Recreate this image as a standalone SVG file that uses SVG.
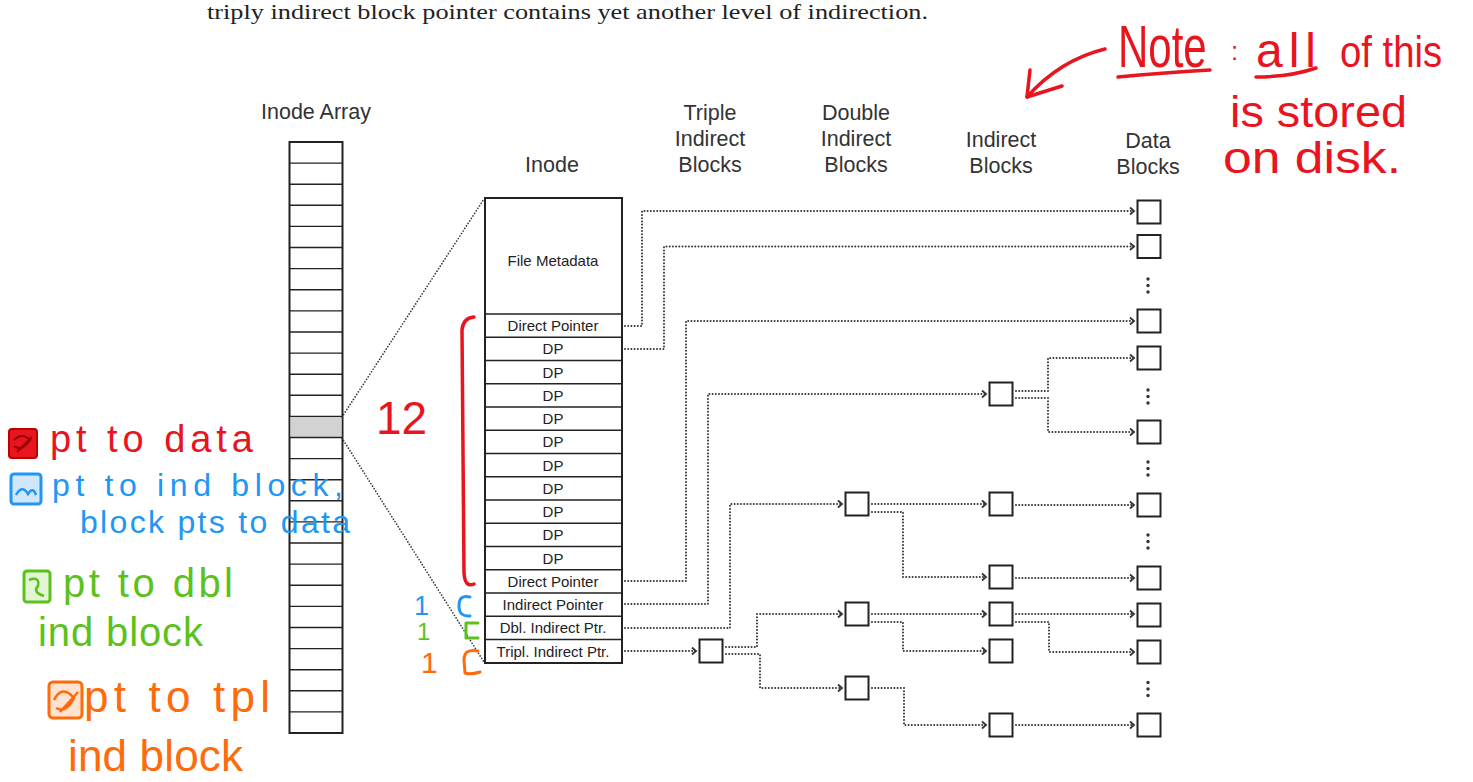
<svg xmlns="http://www.w3.org/2000/svg" width="1473" height="782" viewBox="0 0 1473 782">
<style>
.box{fill:#fff;stroke:#222;stroke-width:2}
.ln{stroke:#222;stroke-width:1.4}
.conn{fill:none;stroke:#333;stroke-width:2;stroke-dasharray:0 3.2;stroke-linecap:round}
.zoom{fill:none;stroke:#333;stroke-width:1.7;stroke-dasharray:0 3;stroke-linecap:round}
.lbl{font-family:"Liberation Sans",Arial,sans-serif;font-size:21.5px;fill:#333;text-anchor:middle}
.in{font-family:"Liberation Sans",Arial,sans-serif;font-size:15px;fill:#222;text-anchor:middle}
.hw{font-family:"Liberation Sans",Arial,sans-serif}
.red{fill:#e8141e}.blue{fill:#2196f3}.green{fill:#5cc11c}.orange{fill:#ff6a0a}
.sred{fill:none;stroke:#e8141e;stroke-width:3.5;stroke-linecap:round;stroke-linejoin:round}
.sblue{fill:none;stroke:#2196f3;stroke-width:3;stroke-linecap:round;stroke-linejoin:round}
.sgreen{fill:none;stroke:#5cc11c;stroke-width:3;stroke-linecap:round;stroke-linejoin:round}
.sorange{fill:none;stroke:#ff6a0a;stroke-width:3;stroke-linecap:round;stroke-linejoin:round}
.dot{fill:#333}
</style>
<defs>
<marker id="ah" markerWidth="8" markerHeight="10" refX="5" refY="5" orient="auto" markerUnits="userSpaceOnUse">
<path d="M1,1.5 L5,5 L1,8.5" fill="none" stroke="#333" stroke-width="1.8"/>
</marker>
</defs>
<rect width="1473" height="782" fill="#fff"/>

<text x="207" y="19" font-family="'Liberation Serif',serif" font-size="22" fill="#222" textLength="721" lengthAdjust="spacingAndGlyphs">triply indirect block pointer contains yet another level of indirection.</text>

<g id="labels">
<text class="lbl" x="316" y="119">Inode Array</text>
<text class="lbl" x="552" y="172">Inode</text>
<text class="lbl" x="710" y="120">Triple</text>
<text class="lbl" x="710" y="146">Indirect</text>
<text class="lbl" x="710" y="172">Blocks</text>
<text class="lbl" x="856" y="120">Double</text>
<text class="lbl" x="856" y="146">Indirect</text>
<text class="lbl" x="856" y="172">Blocks</text>
<text class="lbl" x="1001" y="147">Indirect</text>
<text class="lbl" x="1001" y="173">Blocks</text>
<text class="lbl" x="1148" y="148">Data</text>
<text class="lbl" x="1148" y="174">Blocks</text>
</g>

<g id="inode-array">
<rect class="box" x="289.5" y="142" width="53" height="591"/>
<rect x="290.5" y="416.4" width="51" height="21.1" fill="#d2d2d2"/>
<path class="ln" d="M289.5,163.1H342.5M289.5,184.2H342.5M289.5,205.3H342.5M289.5,226.4H342.5M289.5,247.5H342.5M289.5,268.6H342.5M289.5,289.7H342.5M289.5,310.9H342.5M289.5,332H342.5M289.5,353.1H342.5M289.5,374.2H342.5M289.5,395.3H342.5M289.5,416.4H342.5M289.5,437.5H342.5M289.5,458.6H342.5M289.5,479.7H342.5M289.5,500.8H342.5M289.5,521.9H342.5M289.5,543H342.5M289.5,564.1H342.5M289.5,585.2H342.5M289.5,606.4H342.5M289.5,627.5H342.5M289.5,648.6H342.5M289.5,669.7H342.5M289.5,690.8H342.5M289.5,711.9H342.5"/>
</g>

<g id="zoom-lines">
<path class="zoom" d="M342,417 L484,199"/>
<path class="zoom" d="M342,438 L484,662"/>
</g>

<g id="inode">
<rect class="box" x="485" y="198" width="137" height="465"/>
<path class="ln" d="M485,314H622M485,337.25H622M485,360.5H622M485,383.75H622M485,407H622M485,430.25H622M485,453.5H622M485,476.75H622M485,500H622M485,523.25H622M485,546.5H622M485,569.75H622M485,593H622M485,616.25H622M485,639.5H622"/>
<text class="in" x="553" y="266">File Metadata</text>
<text class="in" x="553" y="331">Direct Pointer</text>
<text class="in" x="553" y="354.4">DP</text>
<text class="in" x="553" y="377.6">DP</text>
<text class="in" x="553" y="400.9">DP</text>
<text class="in" x="553" y="424.1">DP</text>
<text class="in" x="553" y="447.4">DP</text>
<text class="in" x="553" y="470.6">DP</text>
<text class="in" x="553" y="493.9">DP</text>
<text class="in" x="553" y="517.1">DP</text>
<text class="in" x="553" y="540.4">DP</text>
<text class="in" x="553" y="563.6">DP</text>
<text class="in" x="553" y="586.9">Direct Pointer</text>
<text class="in" x="553" y="610.1">Indirect Pointer</text>
<text class="in" x="553" y="633.4">Dbl. Indirect Ptr.</text>
<text class="in" x="553" y="656.6">Tripl. Indirect Ptr.</text>
</g>

<g id="triple-blocks">
<rect class="box" x="699.5" y="639.5" width="23" height="23"/>
</g>
<g id="double-blocks">
<rect class="box" x="845.5" y="492.5" width="23" height="23"/>
<rect class="box" x="845.5" y="602.5" width="23" height="23"/>
<rect class="box" x="845.5" y="676.5" width="23" height="23"/>
</g>
<g id="indirect-blocks">
<rect class="box" x="989.5" y="382.5" width="23" height="23"/>
<rect class="box" x="989.5" y="492.5" width="23" height="23"/>
<rect class="box" x="989.5" y="565.5" width="23" height="23"/>
<rect class="box" x="989.5" y="602.5" width="23" height="23"/>
<rect class="box" x="989.5" y="639.5" width="23" height="23"/>
<rect class="box" x="989.5" y="713.5" width="23" height="23"/>
</g>
<g id="data-blocks">
<rect class="box" x="1137.5" y="200.5" width="23" height="23"/>
<rect class="box" x="1137.5" y="235" width="23" height="23"/>
<rect class="box" x="1137.5" y="309.5" width="23" height="23"/>
<rect class="box" x="1137.5" y="346.5" width="23" height="23"/>
<rect class="box" x="1137.5" y="420.5" width="23" height="23"/>
<rect class="box" x="1137.5" y="493.5" width="23" height="23"/>
<rect class="box" x="1137.5" y="566.5" width="23" height="23"/>
<rect class="box" x="1137.5" y="603.5" width="23" height="23"/>
<rect class="box" x="1137.5" y="640.5" width="23" height="23"/>
<rect class="box" x="1137.5" y="713.5" width="23" height="23"/>
<circle class="dot" cx="1148" cy="279" r="1.7"/><circle class="dot" cx="1148" cy="285.5" r="1.7"/><circle class="dot" cx="1148" cy="292" r="1.7"/>
<circle class="dot" cx="1148" cy="390" r="1.7"/><circle class="dot" cx="1148" cy="396.5" r="1.7"/><circle class="dot" cx="1148" cy="403" r="1.7"/>
<circle class="dot" cx="1148" cy="462" r="1.7"/><circle class="dot" cx="1148" cy="468.5" r="1.7"/><circle class="dot" cx="1148" cy="475" r="1.7"/>
<circle class="dot" cx="1148" cy="535" r="1.7"/><circle class="dot" cx="1148" cy="541.5" r="1.7"/><circle class="dot" cx="1148" cy="548" r="1.7"/>
<circle class="dot" cx="1148" cy="682.5" r="1.7"/><circle class="dot" cx="1148" cy="689" r="1.7"/><circle class="dot" cx="1148" cy="695.5" r="1.7"/>
</g>

<g id="connectors">
<path class="conn" marker-end="url(#ah)" d="M625,326 H642 V211 H1134"/>
<path class="conn" marker-end="url(#ah)" d="M625,349 H664 V246.5 H1134"/>
<path class="conn" marker-end="url(#ah)" d="M625,581 H686 V321 H1134"/>
<path class="conn" marker-end="url(#ah)" d="M625,604 H708 V394 H986"/>
<path class="conn" marker-end="url(#ah)" d="M625,628 H730 V504 H842"/>
<path class="conn" marker-end="url(#ah)" d="M625,651 H696"/>
<path class="conn" marker-end="url(#ah)" d="M726,647 H757 V614 H842"/>
<path class="conn" marker-end="url(#ah)" d="M726,654 H760 V688 H842"/>
<path class="conn" marker-end="url(#ah)" d="M872,504 H986"/>
<path class="conn" marker-end="url(#ah)" d="M872,512 H903 V577 H986"/>
<path class="conn" marker-end="url(#ah)" d="M872,614 H986"/>
<path class="conn" marker-end="url(#ah)" d="M872,622 H903 V651 H986"/>
<path class="conn" marker-end="url(#ah)" d="M872,688 H904 V725 H986"/>
<path class="conn" marker-end="url(#ah)" d="M1016,391 H1048 V358 H1134"/>
<path class="conn" marker-end="url(#ah)" d="M1016,398 H1048 V432 H1134"/>
<path class="conn" marker-end="url(#ah)" d="M1016,505 H1134"/>
<path class="conn" marker-end="url(#ah)" d="M1016,578 H1134"/>
<path class="conn" marker-end="url(#ah)" d="M1016,614 H1134"/>
<path class="conn" marker-end="url(#ah)" d="M1016,622 H1049 V652 H1134"/>
<path class="conn" marker-end="url(#ah)" d="M1016,725 H1134"/>
</g>

<g id="note-annotation">
<text class="hw red" transform="translate(1118,67) scale(0.7,1)" x="0" y="0" font-size="60">Note</text>
<path class="sred" d="M1118,77 Q1160,73 1210,70"/>
<text class="hw red" x="1231" y="60" font-size="26">:</text>
<text class="hw red" x="1256" y="67" font-size="48" letter-spacing="6">all</text>
<path class="sred" d="M1256,77 Q1290,77 1316,68"/>
<text class="hw red" transform="translate(1340,67) scale(0.87,1)" x="0" y="0" font-size="44">of this</text>
<text class="hw red" x="1230" y="127" font-size="44" textLength="177" lengthAdjust="spacingAndGlyphs">is stored</text>
<text class="hw red" x="1223" y="173" font-size="44" textLength="178" lengthAdjust="spacingAndGlyphs">on disk.</text>
<path class="sred" d="M1105,49 Q1060,60 1027,97"/>
<path class="sred" d="M1030,70 L1027,97 L1062,86"/>
</g>

<g id="count-annotations">
<text class="hw red" x="376" y="434" font-size="46">12</text>
<path class="sred" d="M474,317 Q463,318 462,330 L464,573 Q465,588 474,584"/>
<text class="hw blue" x="414" y="615" font-size="27">1</text>
<path class="sblue" d="M470,597 Q459,594 459,606 Q459,617 470,616"/>
<text class="hw green" x="417" y="640" font-size="24">1</text>
<path class="sgreen" d="M478,623 L466,623 L466,638 L478,638"/>
<text class="hw orange" x="421" y="673" font-size="30">1</text>
<path class="sorange" d="M478,651 Q464,648 464,660 L465,673 Q470,675 480,672"/>
</g>

<g id="legend-annotations">
<rect x="9" y="429" width="28" height="29" rx="3" fill="#e8141e" stroke="#b00" stroke-width="2"/>
<path d="M14,440 Q22,432 30,440 Q22,452 14,446 M17,452 L32,437" fill="none" stroke="#900" stroke-width="2"/>
<text class="hw red" x="50" y="452" font-size="38" textLength="203" lengthAdjust="spacing">pt to data</text>

<rect x="11" y="474" width="30" height="30" rx="3" fill="#cfe6fb" stroke="#2196f3" stroke-width="3"/>
<path d="M16,495 Q22,484 28,494 Q33,486 36,495" fill="none" stroke="#2196f3" stroke-width="2.5"/>
<text class="hw blue" x="52" y="496" font-size="32" textLength="291" lengthAdjust="spacing">pt to ind block,</text>
<text class="hw blue" x="80" y="533" font-size="32" textLength="270" lengthAdjust="spacing">block pts to data</text>

<rect x="24" y="571" width="26" height="31" rx="3" fill="#e2f5d5" stroke="#5cc11c" stroke-width="3"/>
<path d="M29,580 Q40,576 38,586 Q32,592 44,596" fill="none" stroke="#5cc11c" stroke-width="2.5"/>
<text class="hw green" x="63" y="597" font-size="40" textLength="170" lengthAdjust="spacing">pt to dbl</text>
<text class="hw green" x="38" y="646" font-size="40" textLength="165" lengthAdjust="spacing">ind block</text>

<rect x="49" y="682" width="33" height="36" rx="4" fill="#ffe2cf" stroke="#ff6a0a" stroke-width="3"/>
<path d="M54,700 Q62,684 74,698 Q66,714 56,708 M60,712 L78,692" fill="none" stroke="#ff6a0a" stroke-width="2.5"/>
<text class="hw orange" x="84" y="712" font-size="44" textLength="186" lengthAdjust="spacing">pt to tpl</text>
<text class="hw orange" x="68" y="771" font-size="44" textLength="175" lengthAdjust="spacing">ind block</text>
</g>
</svg>
